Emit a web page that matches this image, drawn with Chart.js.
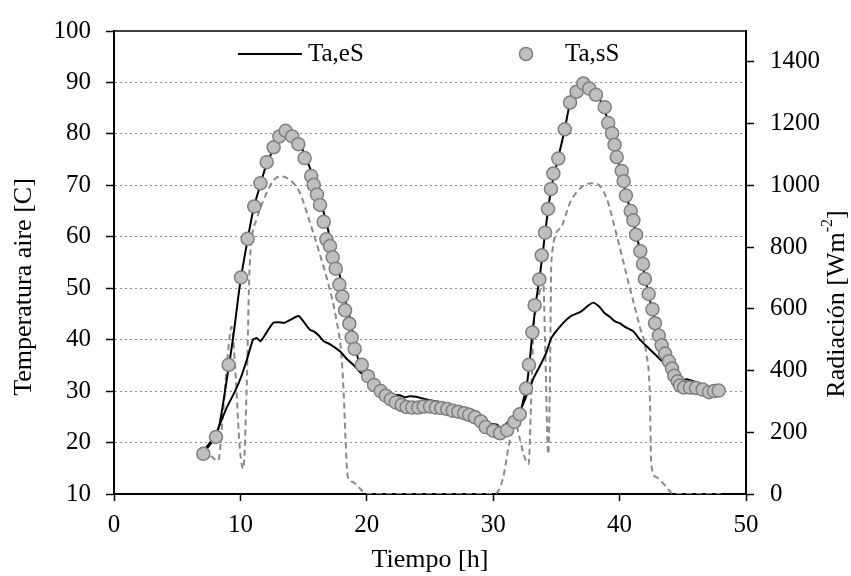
<!DOCTYPE html>
<html>
<head>
<meta charset="utf-8">
<script src="https://cdn.jsdelivr.net/npm/chart.js@4.4.1/dist/chart.umd.min.js"></script>
<style>
  body { margin: 0; background: #fff; }
  #wrap { width: 851px; height: 576px; }
</style>
</head>
<body>
<div id="wrap"><canvas id="chart" width="851" height="576"></canvas></div>
<script>
// Ta,sS (circulos)
const horasSs = [7.07, 8.07, 9.07, 10.05, 10.57, 11.1, 11.58, 12.08, 12.63, 13.08, 13.58, 14.1, 14.58, 15.08, 15.6, 15.8,
  16.06, 16.3, 16.59, 16.8, 17.09, 17.3, 17.54, 17.83, 18.06, 18.28, 18.62, 18.8, 19.04, 19.6, 20.1, 20.57, 21.1, 21.5,
  21.9, 22.3, 22.76, 23.15, 23.6, 24.07, 24.5, 25.0, 25.47, 25.9, 26.37, 26.8, 27.24, 27.7, 28.1, 28.56, 29.03, 29.4,
  30.0, 30.54, 31.1, 31.67, 32.1, 32.6, 32.83, 33.1, 33.28, 33.65, 33.84, 34.1, 34.34, 34.57, 34.76, 35.15, 35.66, 36.08,
  36.6, 37.13, 37.6, 38.13, 38.82, 39.1, 39.4, 39.6, 39.77, 40.17, 40.32, 40.5, 40.88, 41.09, 41.3, 41.64, 41.85, 42.0,
  42.3, 42.6, 42.8, 43.1, 43.33, 43.6, 43.9, 44.15, 44.33, 44.6, 44.78, 45.1, 45.57, 46.04, 46.57, 47.07, 47.47, 47.84];
const tempSs = [17.8, 21.1, 35.1, 52.1, 59.6, 65.9, 70.4, 74.5, 77.4, 79.5, 80.6, 79.5, 78.0, 75.3, 71.8, 70.1,
  68.2, 66.2, 62.9, 59.5, 58.2, 56.0, 53.8, 50.7, 48.4, 45.7, 43.1, 40.4, 38.2, 35.1, 32.9, 31.2, 30.0, 29.1,
  28.4, 27.8, 27.3, 26.9, 26.8, 26.8, 27.0, 27.0, 26.8, 26.7, 26.5, 26.2, 26.0, 25.7, 25.4, 24.9, 24.1, 23.0,
  22.3, 21.8, 22.4, 24.0, 25.5, 30.5, 35.1, 41.4, 46.7, 51.7, 56.4, 60.8, 65.4, 69.3, 72.3, 75.2, 80.9, 86.1,
  88.2, 89.8, 88.8, 87.6, 85.2, 82.1, 80.1, 77.9, 75.5, 72.8, 70.8, 68.0, 65.0, 63.2, 60.4, 57.2, 54.7, 51.8,
  48.9, 45.9, 43.2, 40.8, 38.9, 37.3, 35.8, 34.4, 33.0, 31.9, 31.1, 30.7, 30.7, 30.6, 30.3, 29.8, 30.0, 30.1];

// Ta,eS (linea negra)
const horasEs = [7.0, 7.5, 8.0, 8.3, 8.65, 9.0, 9.44, 9.97, 10.5, 11.02, 11.55, 12.0, 12.34, 12.7, 13.13, 13.66, 14.2,
  14.7, 15.1, 15.5, 15.9, 16.3, 16.7, 17.1, 17.5, 17.9, 18.3, 18.7, 19.1, 19.46, 20.0, 20.6, 21.2, 21.8, 22.4, 23.0,
  23.6, 24.2, 24.8, 25.4, 26.0, 26.6, 27.2, 27.8, 28.4, 29.0, 29.5, 30.0, 30.5, 31.0, 31.6, 32.1, 32.4, 32.65, 32.85,
  33.1, 33.4, 33.7, 34.0, 34.3, 34.6, 35.0, 35.3, 35.66, 36.08, 36.6, 37.1, 37.6, 38.1, 38.6, 39.0, 39.4, 39.8, 40.2,
  40.5, 40.9, 41.3, 41.65, 42.0, 42.3, 42.6, 42.9, 43.2, 43.6, 43.9, 44.2, 44.5, 44.8, 45.1, 45.6, 46.0, 46.6, 47.1,
  47.5, 47.9];
const tempEs = [17.8, 19.3, 21.0, 23.0, 27.9, 33.5, 40.7, 50.8, 58.5, 65.2, 69.9, 73.6, 75.6, 77.8, 79.8, 80.7, 79.8,
  78.2, 75.8, 73.4, 70.5, 67.4, 63.7, 59.7, 55.8, 52.1, 47.5, 43.8, 38.5, 34.9, 32.6, 31.0, 29.8, 28.8, 28.0, 27.4,
  27.1, 27.0, 27.0, 26.9, 26.7, 26.4, 26.1, 25.7, 25.2, 24.3, 23.2, 22.4, 21.9, 22.4, 23.8, 25.6, 28.4, 31.0, 35.0,
  41.2, 47.5, 52.6, 58.5, 64.5, 69.5, 73.8, 77.0, 80.9, 86.0, 88.5, 89.8, 89.0, 87.6, 86.0, 83.2, 79.6, 75.3, 71.8,
  68.3, 64.8, 60.6, 57.0, 52.2, 48.8, 45.6, 42.8, 39.8, 37.2, 35.6, 34.0, 32.3, 31.0, 30.7, 30.7, 30.6, 30.3, 29.8,
  30.0, 30.1];

// temperatura ambiente (linea negra baja)
const horasAmb = [7.07, 7.6, 8.1, 8.5, 8.9, 9.5, 10.0, 10.5, 11.0, 11.3, 11.6, 12.2, 12.6, 13.0, 13.5, 13.9, 14.6, 15.0,
  15.5, 15.8, 16.2, 16.6, 17.1, 17.9, 18.4, 18.9, 19.5, 20.0, 20.5, 21.2, 22.0, 22.6, 23.0, 23.4, 23.9, 24.5, 25.3,
  26.0, 26.6, 27.3, 27.9, 28.7, 29.2, 29.5, 30.0, 30.3, 30.7, 31.07, 31.7, 32.1, 32.65, 33.17, 33.7, 34.2, 34.6, 35.3,
  36.1, 36.9, 37.5, 37.9, 38.4, 38.8, 39.2, 39.6, 40.0, 40.5, 41.1, 41.6, 42.4, 43.2, 44.0, 44.8, 45.3, 45.6, 46.4,
  47.4, 47.9];
const tempAmb = [18.4, 20.0, 21.9, 24.3, 26.7, 29.6, 32.4, 36.0, 40.0, 40.3, 39.7, 41.9, 43.3, 43.4, 43.3, 43.8, 44.6, 43.5,
  41.9, 41.6, 40.8, 39.7, 39.1, 37.7, 36.3, 35.2, 33.6, 32.7, 31.5, 30.3, 29.3, 29.2, 28.8, 29.0, 28.9, 28.5, 28.1,
  27.8, 27.3, 27.0, 26.7, 26.0, 24.8, 23.8, 23.6, 23.5, 22.5, 23.8, 24.7, 26.0, 29.2, 32.4, 34.9, 37.5, 40.3, 42.6,
  44.5, 45.4, 46.6, 47.2, 46.4, 45.2, 44.5, 43.6, 43.2, 42.4, 41.6, 40.0, 38.1, 36.2, 34.3, 31.8, 32.3, 32.1, 31.4,
  30.5, 30.2];

// radiacion (linea discontinua, eje derecho)
const horasRad = [7.07, 7.6, 8.25, 8.6, 9.0, 9.3, 9.6, 9.95, 10.23, 10.5, 10.7, 10.85, 11.3, 12.08, 12.6, 13.13, 13.9,
  14.7, 15.5, 16.3, 17.1, 17.6, 18.0, 18.2, 18.3, 18.5, 18.9, 19.4, 20.0, 30.0, 30.4, 30.8, 31.2, 31.46, 31.7, 32.1,
  32.4, 32.8, 33.0, 33.17, 33.4, 33.7, 33.96, 34.1, 34.36, 34.5, 34.6, 35.3, 36.08, 36.9, 37.8, 38.45, 39.0, 39.77,
  40.8, 41.6, 42.1, 42.4, 42.5, 42.9, 43.7, 44.25, 48.0];
const radiacion = [145, 125, 108, 250, 450, 542, 400, 150, 82, 350, 700, 810, 891, 976, 1015, 1029, 1018,
  976, 880, 775, 658, 563, 447, 300, 193, 55, 39, 20, 0, 0, 10, 55, 150, 203, 235, 180,
  129, 97, 300, 521, 600, 660, 690, 500, 129, 400, 753, 860, 944, 991, 1007, 997, 955, 838,
  669, 542, 457, 309, 97, 55, 23, 0, 0];

const ticksY = [10, 20, 30, 40, 50, 60, 70, 80, 90, 100];
const ticksY2 = [0, 200, 400, 600, 800, 1000, 1200, 1400];

const fuente = '"Liberation Serif", "Times New Roman", serif';
Chart.defaults.font.family = fuente;
Chart.defaults.font.size = 25;
Chart.defaults.color = '#000';

function puntos(xs, ys) {
    return xs.map((x, i) => ({ x: x, y: ys[i] }));
}

const extras = {
    id: 'extras',
    afterDraw(chart) {
        const { ctx, chartArea: a } = chart;
        ctx.save();
        // borde superior
        ctx.strokeStyle = '#000';
        ctx.lineWidth = 1.5;
        ctx.beginPath();
        ctx.moveTo(a.left, a.top);
        ctx.lineTo(a.right, a.top);
        ctx.stroke();

        // leyenda
        const ly = a.top + 23;
        const dsLinea = chart.data.datasets[1];
        const dsPuntos = chart.data.datasets[0];
        ctx.strokeStyle = dsLinea.borderColor;
        ctx.lineWidth = 2;
        ctx.beginPath();
        ctx.moveTo(a.left + 124, ly);
        ctx.lineTo(a.left + 188, ly);
        ctx.stroke();
        ctx.font = '25px ' + fuente;
        ctx.fillStyle = '#000';
        ctx.textBaseline = 'middle';
        ctx.textAlign = 'left';
        ctx.fillText(dsLinea.label, a.left + 194, ly);

        ctx.beginPath();
        ctx.arc(a.left + 412, ly, 6.5, 0, Math.PI * 2);
        ctx.fillStyle = dsPuntos.pointBackgroundColor;
        ctx.fill();
        ctx.strokeStyle = dsPuntos.pointBorderColor;
        ctx.lineWidth = 1.5;
        ctx.stroke();
        ctx.fillStyle = '#000';
        ctx.fillText(dsPuntos.label, a.left + 451, ly);

        // titulo eje izquierdo
        ctx.font = '26px ' + fuente;
        ctx.textAlign = 'center';
        ctx.save();
        ctx.translate(24, 287);
        ctx.rotate(-Math.PI / 2);
        ctx.fillText('Temperatura aire [C]', 0, 0);
        ctx.restore();

        // titulo eje derecho con superindice
        const t1 = 'Radiación [Wm', t2 = '-2', t3 = ']';
        ctx.save();
        ctx.translate(837, 304);
        ctx.rotate(-Math.PI / 2);
        ctx.textAlign = 'left';
        ctx.font = '26px ' + fuente;
        const w1 = ctx.measureText(t1).width, w3 = ctx.measureText(t3).width;
        ctx.font = '16px ' + fuente;
        const w2 = ctx.measureText(t2).width;
        let x0 = -(w1 + w2 + w3) / 2;
        ctx.font = '26px ' + fuente;
        ctx.fillText(t1, x0, 0);
        ctx.font = '16px ' + fuente;
        ctx.fillText(t2, x0 + w1, -9);
        ctx.font = '26px ' + fuente;
        ctx.fillText(t3, x0 + w1 + w2, 0);
        ctx.restore();
        ctx.restore();
    }
};

const ctx = document.getElementById('chart').getContext('2d');
new Chart(ctx, {
    type: 'scatter',
    data: {
        datasets: [{
            label: 'Ta,sS',
            data: puntos(horasSs, tempSs),
            showLine: false,
            pointRadius: 6.5,
            pointBackgroundColor: '#bfbfbf',
            pointBorderColor: '#7f7f7f',
            pointBorderWidth: 1.5,
            yAxisID: 'y'
        }, {
            label: 'Ta,eS',
            data: puntos(horasEs, tempEs),
            showLine: true,
            borderColor: '#000',
            borderWidth: 2,
            pointRadius: 0,
            tension: 0.3,
            cubicInterpolationMode: 'monotone',
            yAxisID: 'y'
        }, {
            label: 'Ta',
            data: puntos(horasAmb, tempAmb),
            showLine: true,
            borderColor: '#000',
            borderWidth: 2,
            pointRadius: 0,
            tension: 0.2,
            yAxisID: 'y'
        }, {
            label: 'Radiación',
            data: puntos(horasRad, radiacion),
            showLine: true,
            borderColor: '#8a8a8a',
            borderWidth: 2,
            borderDash: [6, 4],
            pointRadius: 0,
            cubicInterpolationMode: 'monotone',
            yAxisID: 'y2'
        }]
    },
    options: {
        responsive: false,
        animation: false,
        devicePixelRatio: 1,
        layout: { padding: { top: 22, left: 0, right: 0, bottom: 0 } },
        plugins: {
            legend: { display: false },
            tooltip: { enabled: false }
        },
        scales: {
            x: {
                type: 'linear',
                min: 0,
                max: 50,
                ticks: { stepSize: 10, padding: 9, color: '#000' },
                grid: { drawOnChartArea: false, tickLength: 7, tickColor: '#000', tickWidth: 1.5 },
                border: { color: '#000', width: 2 },
                title: { display: true, text: 'Tiempo [h]', font: { size: 26 }, padding: { top: 0, bottom: 0 } },
                afterFit(scale) { scale.height = 82; }
            },
            y: {
                position: 'left',
                min: 10,
                max: 100,
                afterBuildTicks(scale) { scale.ticks = ticksY.map(v => ({ value: v })); },
                ticks: { padding: 15, color: '#000' },
                grid: {
                    color: c => (c.tick && (c.tick.value === 10 || c.tick.value === 100)) ? 'rgba(0,0,0,0)' : '#8c8c8c',
                    lineWidth: 1,
                    tickLength: 8,
                    tickColor: '#000',
                    tickWidth: 1.5,
                    tickBorderDash: []
                },
                border: { color: '#000', width: 2, dash: [2, 3] },
                afterFit(scale) { scale.width = 114; }
            },
            y2: {
                position: 'right',
                min: 0,
                max: 1500,
                afterBuildTicks(scale) { scale.ticks = ticksY2.map(v => ({ value: v })); },
                ticks: { padding: 16, color: '#000', callback: v => String(v) },
                grid: { drawOnChartArea: false, tickLength: 8, tickColor: '#000', tickWidth: 1.5 },
                border: { color: '#000', width: 2 },
                afterFit(scale) { scale.width = 105; }
            }
        }
    },
    plugins: [extras]
});
</script>
</body>
</html>
